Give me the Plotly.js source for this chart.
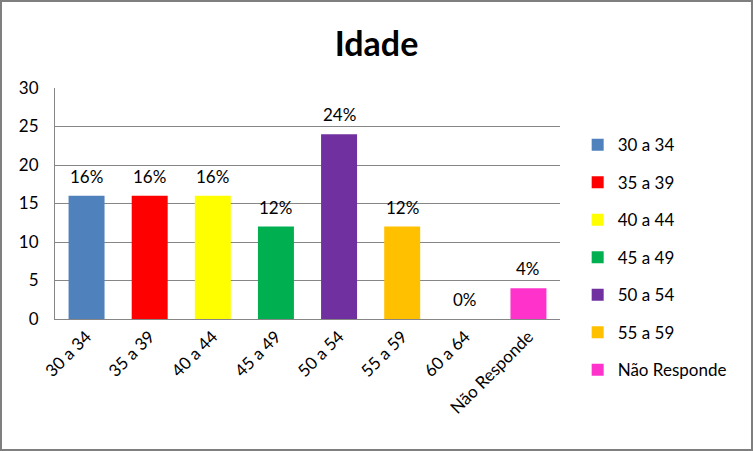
<!DOCTYPE html>
<html>
<head>
<meta charset="utf-8">
<script src="https://cdn.plot.ly/plotly-3.0.1.min.js"></script>
<style>
html,body{margin:0;padding:0;background:#fff;}
#wrap{width:753px;height:451px;box-sizing:border-box;border:2px solid #7f7f7f;}
#chart{width:749px;height:447px;}
</style>
</head>
<body>
<div id="wrap"><div id="chart"></div></div>
<script>
const categories = ["30 a 34","35 a 39","40 a 44","45 a 49","50 a 54","55 a 59","60 a 64","Não Responde"];
const values = [16,16,16,12,24,12,0,4];
const labels = ["16%","16%","16%","12%","24%","12%","0%","4%"];
const colors = ["#4F81BD","#FF0000","#FFFF00","#00B050","#7030A0","#FFC000","#FFFFFF","#FF33CC"];
const showInLegend = [true,true,true,true,true,true,false,true];

const FONT = "Lato, 'Open Sans', sans-serif";
const traces = categories.map((c,i)=>({
  type:'bar',
  x:[c], y:[values[i]], name:c,
  marker:{color:colors[i]},
  showlegend:showInLegend[i],
  legendgroup:'g'+i,
  hoverinfo:'none'
}));

const annotations = categories.map((c,i)=>({
  x:c, y:values[i], xref:'x', yref:'y', text:labels[i],
  showarrow:false, yanchor:'bottom', yshift:7,
  font:{family:FONT,size:17,color:'#000'}
}));

const layout = {
  width:749, height:447,
  margin:{l:53,r:191,t:86,b:130},
  paper_bgcolor:'#fff', plot_bgcolor:'#fff',
  barmode:'overlay', bargap:0.43,
  title:{text:'<b>Idade</b>', x:0.5, xanchor:'center', y:0.905, yanchor:'middle', font:{family:FONT,size:34,color:'#000'}},
  font:{family:FONT,size:17,color:'#000'},
  annotations:annotations,
  xaxis:{type:'category', tickangle:-45, showline:true, linecolor:'#868686', linewidth:1, ticks:'', tickfont:{family:FONT,size:17,color:'#000'}, showgrid:false},
  yaxis:{range:[0,30], dtick:5, tick0:0, showline:true, linecolor:'#868686', linewidth:1, showgrid:true, gridcolor:'#868686', gridwidth:1, ticks:'', tickfont:{family:FONT,size:17,color:'#000'}, zeroline:false, ticklabelstandoff:12},
  legend:{x:1.035, xanchor:'left', y:0.83, yanchor:'top', maxheight:420, traceorder:'grouped', tracegroupgap:12.4, font:{family:FONT,size:17,color:'#000'}, bgcolor:'rgba(0,0,0,0)'},
  showlegend:true
};
Plotly.newPlot('chart', traces, layout, {displayModeBar:false, staticPlot:true});
</script>
</body>
</html>
